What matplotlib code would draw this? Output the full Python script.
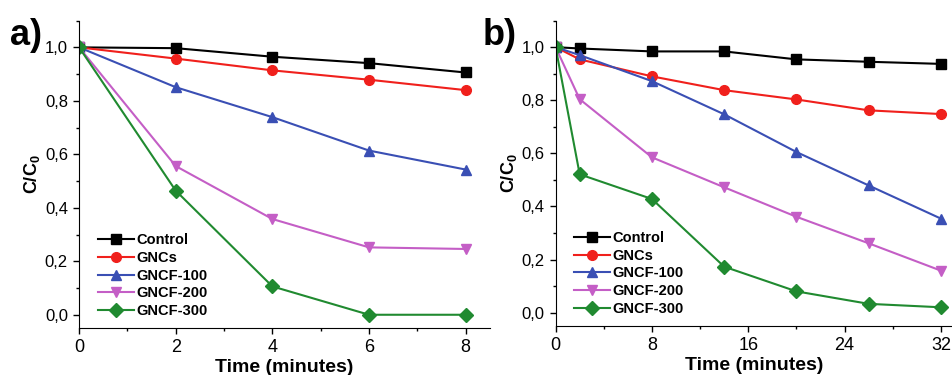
import matplotlib
matplotlib.use("Agg")
import matplotlib.pyplot as plt
from matplotlib.ticker import FuncFormatter, MultipleLocator

plt.rcParams['font.family'] = ['Liberation Sans', 'DejaVu Sans']
plt.rcParams['mathtext.fontset'] = 'custom'
plt.rcParams['mathtext.rm'] = 'Liberation Sans'
plt.rcParams['mathtext.bf'] = 'Liberation Sans:bold'

# series names and styles
labels = ['Control', 'GNCs', 'GNCF-100', 'GNCF-200', 'GNCF-300']
colors = ['#000000', '#f0201c', '#3a4fb4', '#c45ec6', '#208a30']
markers = ['s', 'o', '^', 'v', 'D']

# panel a) data
time_a = [0, 2, 4, 6, 8]
control_a = [1.0, 0.997, 0.965, 0.941, 0.906]
gncs_a = [1.0, 0.958, 0.914, 0.879, 0.840]
gncf100_a = [1.0, 0.851, 0.739, 0.614, 0.543]
gncf200_a = [1.0, 0.556, 0.358, 0.252, 0.246]
gncf300_a = [1.0, 0.464, 0.106, 0.0, 0.0]

# panel b) data
time_b = [0, 2, 8, 14, 20, 26, 32]
control_b = [1.0, 0.995, 0.984, 0.984, 0.954, 0.945, 0.937]
gncs_b = [1.0, 0.954, 0.890, 0.838, 0.803, 0.762, 0.748]
gncf100_b = [1.0, 0.970, 0.872, 0.747, 0.605, 0.479, 0.354]
gncf200_b = [1.0, 0.804, 0.585, 0.472, 0.361, 0.261, 0.158]
gncf300_b = [1.0, 0.521, 0.428, 0.173, 0.080, 0.033, 0.020]

comma = FuncFormatter(lambda v, p: f'{v:.1f}'.replace('.', ','))

fig = plt.figure(figsize=(9.53, 3.75), dpi=100)
ax_a = fig.add_axes([0.083, 0.125, 0.431, 0.82])
ax_b = fig.add_axes([0.583, 0.131, 0.417, 0.814])


def draw(ax, t, series, xmax, major, minor, tag, tag_x):
    for y, lab, c, m in zip(series, labels, colors, markers):
        ax.plot(t, y, color=c, marker=m, markersize=7, linewidth=1.5, label=lab)
    ax.set_xlim(0, xmax)
    ax.set_ylim(-0.05, 1.1)
    ax.xaxis.set_major_locator(MultipleLocator(major))
    ax.xaxis.set_minor_locator(MultipleLocator(minor))
    ax.yaxis.set_major_locator(MultipleLocator(0.2))
    ax.yaxis.set_minor_locator(MultipleLocator(0.1))
    ax.yaxis.set_major_formatter(comma)
    ax.spines['top'].set_visible(False)
    ax.spines['right'].set_visible(False)
    ax.tick_params(which='major', length=4.5, width=1)
    ax.tick_params(which='minor', length=2.5, width=1)
    ax.tick_params(axis='x', labelsize=13)
    ax.tick_params(axis='y', labelsize=12)
    ax.set_xlabel('Time (minutes)', fontsize=14, fontweight='bold', labelpad=2)
    ax.set_ylabel(r'C/C$_\mathbf{0}$', fontsize=13, fontweight='bold', labelpad=2)
    ax.text(tag_x, 0.92, tag, transform=ax.transAxes, fontsize=26,
            fontweight='bold', va='baseline')
    ax.legend(loc='lower left', bbox_to_anchor=(0.02, 0.0), frameon=False,
              prop={'weight': 'bold', 'size': 10.5}, handlelength=2.5,
              handletextpad=0.15, labelspacing=0.25, borderaxespad=0.3)


draw(ax_a, time_a, [control_a, gncs_a, gncf100_a, gncf200_a, gncf300_a],
     8.5, 2, 1, 'a)', -0.168)
draw(ax_b, time_b, [control_b, gncs_b, gncf100_b, gncf200_b, gncf300_b],
     33, 8, 4, 'b)', -0.183)

fig.savefig('out.png', dpi=100)
